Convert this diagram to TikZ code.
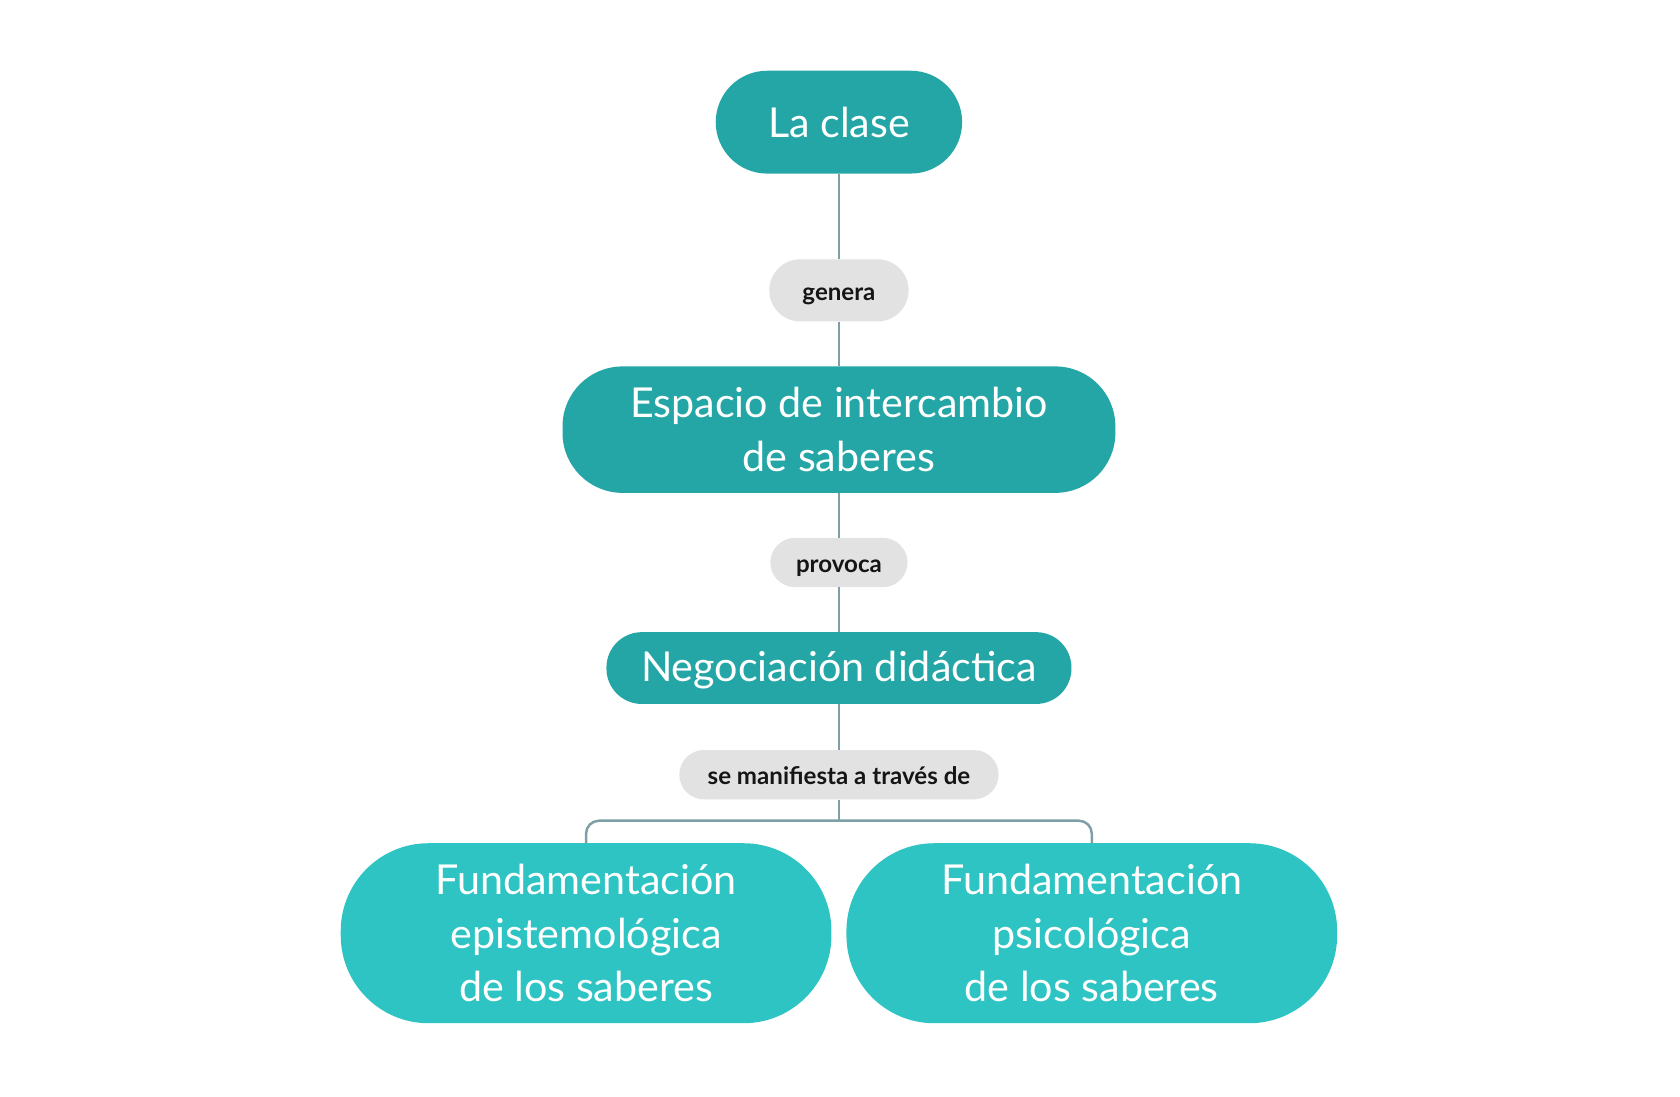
\documentclass[tikz,border=0pt]{standalone}
\usepackage{fontspec}
\setmainfont{Lato}
\definecolor{darkteal}{HTML}{25A6A6}
\definecolor{lightteal}{HTML}{2DC4C3}
\definecolor{pillgray}{HTML}{E2E2E2}
\definecolor{linkc}{HTML}{7F9FA6}
\definecolor{labeltext}{HTML}{151515}
\begin{document}
\begin{tikzpicture}[x=1pt,y=-1pt,
  concept/.style={fill=darkteal, text=white, inner sep=0pt, align=center,
    font=\fontsize{38.5}{50}\selectfont},
  subconcept/.style={concept, fill=lightteal},
  linklabel/.style={fill=pillgray, text=labeltext, inner sep=0pt, align=center,
    text height=18pt, text depth=0pt,
    font=\fontsize{22.5}{26}\selectfont\bfseries},
  link/.style={draw=linkc, line width=2.3pt}]
\useasboundingbox (0,0) rectangle (1568,1023);
\fill[white] (0,0) rectangle (1568,1023);

\node[concept, minimum width=230pt, minimum height=96pt, rounded corners=48pt] (clase) at (783,114) {La clase};
\node[linklabel, minimum width=130pt, minimum height=58pt, rounded corners=29pt] (genera) at (783,271) {genera};
\node[concept, minimum width=516pt, minimum height=118pt, rounded corners=56pt] (espacio) at (783,401) {Espacio de intercambio\\de saberes};
\node[linklabel, minimum width=128pt, minimum height=46pt, rounded corners=23pt] (provoca) at (783,525) {provoca};
\node[concept, minimum width=434pt, minimum height=67pt, rounded corners=33pt, text height=33pt, text depth=8pt] (nego) at (783,623.5) {Negociación didáctica};
\node[linklabel, minimum width=298pt, minimum height=46pt, rounded corners=23pt] (manif) at (783,723) {se manifiesta a través de};
\node[subconcept, minimum width=458pt, minimum height=168pt, rounded corners=82pt] (epis) at (547,871) {Fundamentación~\\epistemológica~\\de los saberes};
\node[subconcept, minimum width=458pt, minimum height=168pt, rounded corners=82pt] (psico) at (1019,871) {Fundamentación~\\psicológica~\\de los saberes};

\coordinate (branch) at (783,766);

\draw[link] (clase) -- (genera);
\draw[link] (genera) -- (espacio);
\draw[link] (espacio) -- (provoca);
\draw[link] (provoca) -- (nego);
\draw[link] (nego) -- (manif);
\draw[link] (manif) -- (branch);
\draw[link, rounded corners=12pt] (epis.north) |- (branch) -| (psico.north);
\end{tikzpicture}
\end{document}
